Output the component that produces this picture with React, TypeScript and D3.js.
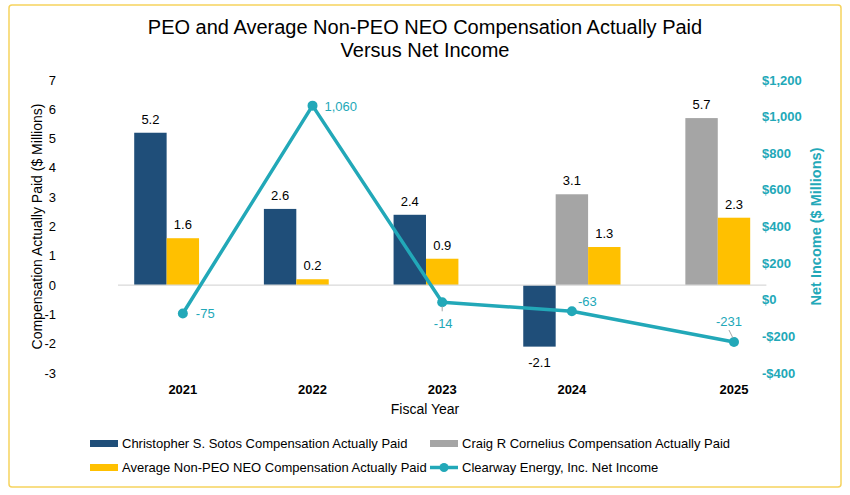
import React from "react";
import * as d3 from "d3";

const years = ["2021", "2022", "2023", "2024", "2025"];
const sotos: (number | null)[] = [5.2, 2.6, 2.4, -2.1, null];
const cornelius: (number | null)[] = [null, null, null, 3.1, 5.7];
const avgNeo: (number | null)[] = [1.6, 0.2, 0.9, 1.3, 2.3];
const netIncome = [-75, 1060, -14, -63, -231];
const leftTicks = [7, 6, 5, 4, 3, 2, 1, 0, -1, -2, -3];
const rightTicks = [1200, 1000, 800, 600, 400, 200, 0, -200, -400];

const W = 850;
const H = 495;
const NAVY = "#1F4E79";
const GRAY = "#A5A5A5";
const GOLD = "#FFC000";
const TEAL = "#22A8B8";
const FONT = "'Liberation Sans', Arial, sans-serif";

// slot-based horizontal scale (one slot = one bar width), 4 slots per year
const SLOTS_PER_YEAR = 4;
const x = d3.scaleLinear().domain([-0.5, 19.5]).range([118, 766.4]);
const slotW = x(1) - x(0);
const yL = d3.scaleLinear().domain([-3, 7]).range([373, 80]);
const yR = d3.scaleLinear().domain([-400, 1200]).range([373, 80]);

type Bar = { year: number; slot: number; value: number; color: string };

function buildBars(): { bars: Bar[]; centers: number[] } {
  const bars: Bar[] = [];
  const centers: number[] = [];
  years.forEach((_, i) => {
    const base = i * SLOTS_PER_YEAR;
    const s = sotos[i];
    const c = cornelius[i];
    const a = avgNeo[i];
    let first = Infinity;
    if (s != null) {
      bars.push({ year: i, slot: base, value: s, color: NAVY });
      first = Math.min(first, 0);
    }
    if (c != null) {
      bars.push({ year: i, slot: base + 1, value: c, color: GRAY });
      first = Math.min(first, 1);
    }
    if (a != null) {
      const aslot = c != null ? 2 : 1;
      bars.push({ year: i, slot: base + aslot, value: a, color: GOLD });
      first = Math.min(first, aslot);
    }
    centers.push(x(base + first + 1.5));
  });
  return { bars, centers };
}

export default function App() {
  const { bars, centers } = buildBars();
  const linePts: [number, number][] = netIncome.map((v, i) => [centers[i], yR(v)]);
  const line = d3.line();
  const fmtR = (v: number) => (v < 0 ? "-$" : "$") + d3.format(",")(Math.abs(v));
  const fmtL = (v: number) => (v < 0 ? "-" : "") + d3.format(",")(Math.abs(v));

  // label offsets for the line values
  const lineLabels = [
    { dx: 13, dy: 5, anchor: "start", leader: null },
    { dx: 12, dy: 5, anchor: "start", leader: null },
    { dx: 1, dy: 26, anchor: "middle", leader: [[0, 4], [0, 9]] },
    { dx: 6, dy: -5, anchor: "start", leader: null },
    { dx: -5, dy: -16, anchor: "middle", leader: [[-5, -12], [-1, -4]] },
  ];

  return (
    <svg
      width={W}
      height={H}
      style={{ position: "absolute", left: 0, top: 0, display: "block", background: "#fff" }}
      fontFamily={FONT}
    >
      <rect x={0} y={0} width={W} height={H} fill="#fff" />
      <rect x={9} y={5} width={832} height={482} rx={3} fill="none" stroke="#F6D35E" strokeWidth={1.5} />

      <text x={425} y={34} textAnchor="middle" fontSize={20} fill="#000">
        PEO and Average Non-PEO NEO Compensation Actually Paid
      </text>
      <text x={425} y={57} textAnchor="middle" fontSize={20} fill="#000">
        Versus Net Income
      </text>

      {/* left axis */}
      {leftTicks.map((t) => (
        <text key={"l" + t} x={56} y={yL(t)} dy="0.35em" textAnchor="end" fontSize={13} fill="#000">
          {t}
        </text>
      ))}
      <text
        transform={`translate(37,${(yL(7) + yL(-3)) / 2}) rotate(-90)`}
        textAnchor="middle"
        dy="0.35em"
        fontSize={14}
        fill="#000"
      >
        Compensation Actually Paid ($ Millions)
      </text>

      {/* right axis */}
      {rightTicks.map((t) => (
        <text key={"r" + t} x={762} y={yR(t)} dy="0.35em" textAnchor="start" fontSize={13} fontWeight="bold" fill={TEAL}>
          {fmtR(t)}
        </text>
      ))}
      <text
        transform={`translate(816,${(yR(1200) + yR(-400)) / 2}) rotate(-90)`}
        textAnchor="middle"
        dy="0.35em"
        fontSize={14.5}
        fontWeight="bold"
        fill={TEAL}
      >
        Net Income ($ Millions)
      </text>

      {/* bars */}
      {bars.map((b, k) => {
        const y0 = yL(0);
        const y1 = yL(b.value);
        return (
          <g key={"b" + k}>
            <rect x={x(b.slot)} y={Math.min(y0, y1)} width={slotW} height={Math.abs(y1 - y0)} fill={b.color} />
            <text
              x={x(b.slot + 0.5)}
              y={b.value >= 0 ? y1 - 9 : y1 + 20}
              textAnchor="middle"
              fontSize={13}
              fill="#000"
            >
              {b.value.toFixed(1)}
            </text>
          </g>
        );
      })}

      {/* zero line */}
      <line x1={x.range()[0]} x2={x.range()[1]} y1={yL(0)} y2={yL(0)} stroke="#D9D9D9" strokeWidth={1.2} />

      {/* net income line */}
      <path d={line(linePts) || ""} fill="none" stroke={TEAL} strokeWidth={3.5} strokeLinejoin="round" />
      {linePts.map(([px, py], i) => {
        const l = lineLabels[i];
        return (
          <g key={"p" + i}>
            <circle cx={px} cy={py} r={5} fill={TEAL} />
            {l.leader && (
              <line
                x1={px + l.leader[0][0]}
                y1={py + l.leader[0][1]}
                x2={px + l.leader[1][0]}
                y2={py + l.leader[1][1]}
                stroke="#A6A6A6"
                strokeWidth={1}
              />
            )}
            <text x={px + l.dx} y={py + l.dy} textAnchor={l.anchor as any} fontSize={13} fill={TEAL}>
              {fmtL(netIncome[i])}
            </text>
          </g>
        );
      })}

      {/* x labels */}
      {years.map((yr, i) => (
        <text key={yr} x={centers[i]} y={394} textAnchor="middle" fontSize={13} fontWeight="bold" fill="#000">
          {yr}
        </text>
      ))}
      <text x={425} y={414} textAnchor="middle" fontSize={14} fill="#000">
        Fiscal Year
      </text>

      {/* legend */}
      <g fontSize={13} fill="#000">
        <rect x={90} y={440} width={28} height={7} fill={NAVY} />
        <text x={122} y={448}>Christopher S. Sotos Compensation Actually Paid</text>
        <rect x={430} y={440} width={28} height={7} fill={GRAY} />
        <text x={462} y={448}>Craig R Cornelius Compensation Actually Paid</text>
        <rect x={90} y={464} width={28} height={7} fill={GOLD} />
        <text x={122} y={472}>Average Non-PEO NEO Compensation Actually Paid</text>
        <line x1={430} x2={458} y1={467.5} y2={467.5} stroke={TEAL} strokeWidth={3.5} />
        <circle cx={444} cy={467.5} r={4.5} fill={TEAL} />
        <text x={462} y={472}>Clearway Energy, Inc. Net Income</text>
      </g>
    </svg>
  );
}
